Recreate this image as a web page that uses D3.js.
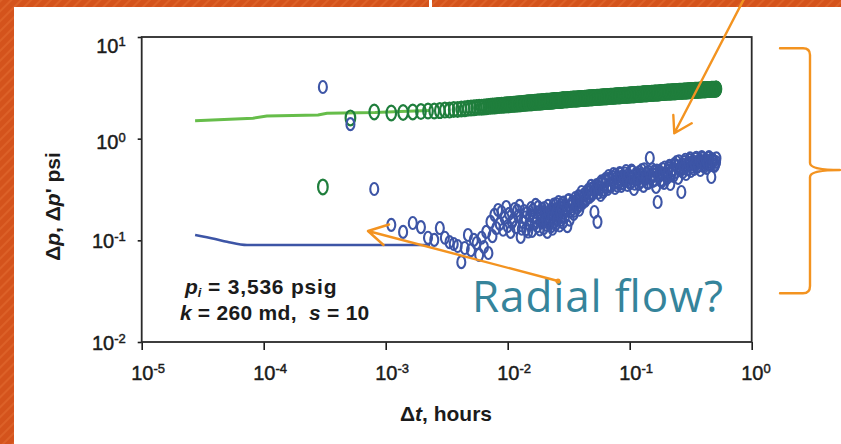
<!DOCTYPE html>
<html>
<head>
<meta charset="utf-8">
<script src="https://cdn.jsdelivr.net/npm/d3@7"></script>
<style>
  html, body { margin: 0; padding: 0; background: #d4531c; }
  svg { display: block; }
  text { white-space: pre; }
</style>
</head>
<body>
<svg id="chart" width="841" height="444"></svg>
<script>
// ---- axis ticks ----
const xTicks = [1e-5, 1e-4, 1e-3, 1e-2, 1e-1, 1];
const yTicks = [1e-2, 1e-1, 1, 10];

// ---- early-time curves (hours, psi) ----
const dpCurveHours    = [2.74e-5, 8.17e-5, 1.06e-4, 2.79e-4, 3.30e-4, 8.17e-4, 1.31e-3, 2.31e-3];
const dpCurvePsi      = [1.50, 1.59, 1.67, 1.71, 1.78, 1.81, 1.85, 1.89];
const derivCurveHours = [2.74e-5, 4.0e-5, 5.0e-5, 7.3e-5, 2.0e-4, 2.31e-3];
const derivCurvePsi   = [0.113, 0.103, 0.097, 0.090, 0.090, 0.090];

// ---- gauge samples: elapsed time (s), pressure change and derivative (psi) ----
const elapsedSec = [
  1.1, 1.85, 2.9, 4, 5, 6, 7, 8, 9, 10,
  11, 12, 13, 14, 15, 16, 17, 18, 19, 20,
  21, 22, 23, 24, 25, 26, 27, 28, 29, 30,
  31, 32, 33, 34, 35, 36, 37, 38, 40, 41,
  42, 44, 45, 46, 48, 49, 51, 52, 54, 56,
  57, 59, 61, 63, 65, 67, 69, 71, 73, 75,
  77, 80, 82, 85, 87, 90, 93, 95, 98, 101,
  104, 108, 111, 114, 118, 121, 125, 129, 133, 137,
  141, 145, 150, 154, 159, 164, 169, 174, 179, 185,
  190, 196, 202, 208, 215, 221, 228, 235, 242, 249,
  257, 265, 273, 281, 290, 298, 307, 317, 326, 336,
  346, 357, 368, 379, 390, 402, 414, 427, 440, 453,
  467, 481, 495, 510, 526, 542, 558, 575, 592, 610,
  629, 648, 667, 688, 708, 730, 752, 775, 798, 822,
  847, 873, 899, 926, 954, 983, 1013, 1043, 1075, 1107,
  1141, 1175, 1211, 1247, 1285, 1324, 1364, 1405, 1448, 1491,
  1536, 1583, 1631, 1680, 1731, 1783, 1837
];
const dpPsi = [
  0.335, 1.60, 1.83, 1.79, 1.81, 1.83, 1.85, 1.87, 1.87, 1.89,
  1.91, 1.91, 1.94, 1.94, 1.96, 1.97, 1.99, 2.00, 2.01, 2.03,
  2.04, 2.04, 2.05, 2.06, 2.07, 2.08, 2.09, 2.10, 2.11, 2.12,
  2.12, 2.13, 2.13, 2.14, 2.15, 2.15, 2.16, 2.17, 2.18, 2.18,
  2.19, 2.20, 2.21, 2.21, 2.22, 2.23, 2.24, 2.24, 2.25, 2.26,
  2.26, 2.27, 2.28, 2.29, 2.30, 2.30, 2.31, 2.32, 2.32, 2.33,
  2.34, 2.34, 2.35, 2.36, 2.36, 2.37, 2.38, 2.38, 2.39, 2.40,
  2.41, 2.42, 2.42, 2.43, 2.44, 2.44, 2.45, 2.46, 2.46, 2.47,
  2.48, 2.48, 2.49, 2.50, 2.50, 2.51, 2.52, 2.53, 2.53, 2.54,
  2.54, 2.55, 2.56, 2.57, 2.57, 2.58, 2.59, 2.59, 2.60, 2.61,
  2.62, 2.62, 2.63, 2.64, 2.65, 2.65, 2.66, 2.66, 2.67, 2.68,
  2.68, 2.69, 2.70, 2.70, 2.71, 2.72, 2.73, 2.73, 2.74, 2.75,
  2.76, 2.76, 2.77, 2.78, 2.78, 2.79, 2.80, 2.81, 2.81, 2.82,
  2.83, 2.84, 2.85, 2.85, 2.86, 2.87, 2.87, 2.88, 2.89, 2.89,
  2.90, 2.91, 2.91, 2.92, 2.93, 2.93, 2.94, 2.95, 2.96, 2.96,
  2.97, 2.98, 2.98, 2.99, 3.00, 3.00, 3.01, 3.02, 3.02, 3.03,
  3.04, 3.05, 3.05, 3.06, 3.07, 3.07, 3.08
];
const dpDerivPsi = [
  3.22, 1.39, 0.320, 0.142, 0.121, 0.148, 0.135, 0.106, 0.101, 0.132,
  0.106, 0.096, 0.092, 0.088, 0.061, 0.084, 0.113, 0.080, 0.101, 0.094,
  0.072, 0.106, 0.086, 0.121, 0.075, 0.152, 0.110, 0.178, 0.132, 0.199,
  0.145, 0.190, 0.127, 0.166, 0.213, 0.138, 0.182, 0.121, 0.159, 0.203,
  0.135, 0.174, 0.218, 0.108, 0.152, 0.194, 0.129, 0.186, 0.145, 0.208,
  0.124, 0.170, 0.223, 0.138, 0.190, 0.155, 0.203, 0.132, 0.182, 0.142,
  0.218, 0.162, 0.138, 0.199, 0.152, 0.228, 0.174, 0.213, 0.159, 0.233,
  0.186, 0.208, 0.138, 0.249, 0.194, 0.228, 0.182, 0.261, 0.208, 0.273,
  0.223, 0.299, 0.238, 0.286, 0.255, 0.313, 0.267, 0.343, 0.292, 0.190,
  0.327, 0.152, 0.358, 0.279, 0.375, 0.313, 0.401, 0.335, 0.430, 0.350,
  0.392, 0.449, 0.327, 0.411, 0.367, 0.460, 0.343, 0.430, 0.384, 0.481,
  0.350, 0.420, 0.375, 0.470, 0.320, 0.401, 0.449, 0.358, 0.420, 0.492,
  0.343, 0.401, 0.460, 0.367, 0.646, 0.430, 0.384, 0.481, 0.335, 0.238,
  0.439, 0.392, 0.503, 0.367, 0.460, 0.411, 0.515, 0.358, 0.481, 0.430,
  0.551, 0.590, 0.411, 0.515, 0.299, 0.470, 0.590, 0.449, 0.539, 0.617,
  0.481, 0.564, 0.503, 0.631, 0.527, 0.590, 0.492, 0.660, 0.551, 0.603,
  0.515, 0.646, 0.564, 0.420, 0.617, 0.539, 0.590
];

// ---- interleaved readings between the samples above ----
const midSec = [
  39, 43, 47, 50, 53, 55, 58, 60, 62, 64,
  66, 68, 70, 72, 74, 76, 78, 79, 81, 83,
  84, 86, 88, 89, 91, 92, 94, 96, 97, 99,
  100, 102, 103, 106, 110, 112, 116, 119, 123, 127,
  131, 135, 139, 143, 147, 152, 156, 161, 166, 171,
  176, 182, 187, 193, 199, 205, 211, 218, 224, 231,
  238, 245, 253, 261, 269, 277, 285, 294, 302, 312,
  321, 331, 341, 351, 362, 373, 384, 396, 408, 420,
  433, 446, 460, 474, 488, 502, 518, 534, 550, 566,
  583, 601, 619, 638, 657, 677, 698, 719, 741, 763,
  786, 810, 834, 860, 886, 912, 940, 968, 998, 1028,
  1059, 1091, 1124, 1158, 1193, 1229, 1266, 1304, 1344, 1384,
  1426, 1469, 1513, 1559, 1607, 1655, 1705, 1757, 1810, 1850
];
const midDpPsi = [
  2.17, 2.19, 2.22, 2.23, 2.25, 2.25, 2.27, 2.28, 2.28, 2.29,
  2.30, 2.31, 2.31, 2.32, 2.33, 2.33, 2.34, 2.34, 2.35, 2.35,
  2.35, 2.36, 2.37, 2.37, 2.37, 2.38, 2.38, 2.39, 2.39, 2.39,
  2.40, 2.40, 2.41, 2.41, 2.42, 2.43, 2.43, 2.44, 2.45, 2.45,
  2.46, 2.47, 2.47, 2.48, 2.49, 2.49, 2.50, 2.51, 2.51, 2.52,
  2.53, 2.54, 2.54, 2.55, 2.56, 2.56, 2.57, 2.58, 2.58, 2.59,
  2.60, 2.60, 2.61, 2.62, 2.63, 2.63, 2.64, 2.65, 2.65, 2.66,
  2.67, 2.67, 2.68, 2.69, 2.69, 2.70, 2.71, 2.71, 2.72, 2.73,
  2.74, 2.74, 2.75, 2.76, 2.76, 2.77, 2.78, 2.78, 2.79, 2.80,
  2.81, 2.82, 2.82, 2.83, 2.84, 2.85, 2.86, 2.86, 2.87, 2.88,
  2.88, 2.89, 2.90, 2.90, 2.91, 2.92, 2.92, 2.93, 2.94, 2.95,
  2.95, 2.96, 2.97, 2.97, 2.98, 2.99, 2.99, 3.00, 3.01, 3.01,
  3.02, 3.03, 3.03, 3.04, 3.05, 3.05, 3.06, 3.07, 3.07, 3.08
];
const midDerivPsi = [
  0.150, 0.196, 0.130, 0.168, 0.122, 0.176, 0.198, 0.146, 0.166, 0.212,
  0.128, 0.176, 0.150, 0.208, 0.160, 0.121, 0.186, 0.145, 0.200, 0.170,
  0.130, 0.225, 0.180, 0.143, 0.196, 0.160, 0.238, 0.140, 0.190, 0.170,
  0.210, 0.150, 0.235, 0.170, 0.200, 0.245, 0.160, 0.215, 0.240, 0.196,
  0.230, 0.250, 0.200, 0.265, 0.232, 0.280, 0.245, 0.300, 0.270, 0.320,
  0.280, 0.330, 0.305, 0.350, 0.295, 0.330, 0.380, 0.300, 0.355, 0.380,
  0.320, 0.405, 0.340, 0.420, 0.370, 0.440, 0.345, 0.400, 0.450, 0.365,
  0.410, 0.455, 0.390, 0.440, 0.365, 0.485, 0.410, 0.360, 0.455, 0.395,
  0.470, 0.380, 0.440, 0.500, 0.415, 0.370, 0.470, 0.410, 0.500, 0.440,
  0.395, 0.485, 0.420, 0.470, 0.380, 0.450, 0.520, 0.425, 0.480, 0.540,
  0.445, 0.500, 0.560, 0.470, 0.535, 0.600, 0.490, 0.560, 0.520, 0.620,
  0.500, 0.575, 0.640, 0.530, 0.600, 0.560, 0.650, 0.540, 0.615, 0.580,
  0.640, 0.530, 0.620, 0.580, 0.660, 0.550, 0.630, 0.600, 0.560, 0.640
];

// ---- page setup ----
const W = 841, H = 444;
const svg = d3.select("#chart");
const tickFont = "'Liberation Sans', Arial, Helvetica, sans-serif";
const ink = "#1b1b1b";
const orange = "#f39320";

// textured slide background
const defs = svg.append("defs");
const pat = defs.append("pattern")
  .attr("id", "stripes").attr("width", 7).attr("height", 7)
  .attr("patternUnits", "userSpaceOnUse")
  .attr("patternTransform", "rotate(45)");
pat.append("rect").attr("width", 7).attr("height", 7).attr("fill", "#d4531c");
pat.append("rect").attr("width", 2).attr("height", 7).attr("fill", "#dc6128");
svg.append("rect").attr("width", W).attr("height", H).attr("fill", "url(#stripes)");

// white content panel
svg.append("rect").attr("x", 14).attr("y", 7).attr("width", W - 14).attr("height", H - 7).attr("fill", "#fff");
// tail of the slide title glyph peeking above the panel
svg.append("rect").attr("x", 429).attr("y", 0).attr("width", 3).attr("height", 7).attr("fill", "#fff");

// ---- scales ----
const x = d3.scaleLog().domain([1e-5, 1]).range([141.7, 751.7]);
const y = d3.scaleLog().domain([0.01, 10]).range([342, 37]);

function powerLabel(textSel, v, supSize, supShift) {
  const e = Math.round(Math.log10(v));
  textSel.text(null);
  textSel.append("tspan").text("10");
  textSel.append("tspan").attr("dy", supShift).attr("font-size", supSize)
    .text(e < 0 ? "-" + (-e) : String(e));
}

// x axis
const gx = svg.append("g").attr("transform", `translate(0,${y.range()[0]})`)
  .call(d3.axisBottom(x).tickValues(xTicks).tickSize(8).tickSizeOuter(0).tickFormat(() => ""));
gx.select(".domain").remove();
gx.selectAll(".tick line").attr("stroke", ink).attr("stroke-width", 1.6);
gx.selectAll(".tick text")
  .attr("font-family", tickFont).attr("font-size", 20).attr("fill", ink)
  .attr("stroke", ink).attr("stroke-width", 0.45)
  .attr("text-anchor", "start").attr("x", -11).attr("y", 38).attr("dy", null)
  .each(function (d) { powerLabel(d3.select(this), d, 13, -7); });

// y axis
const yLabelDrop = { "0.01": 7.5, "0.1": 7.5, "1": 10, "10": 15 };
const gy = svg.append("g").attr("transform", `translate(${x.range()[0]},0)`)
  .call(d3.axisLeft(y).tickValues(yTicks).tickSize(4).tickSizeOuter(0).tickFormat(() => ""));
gy.select(".domain").remove();
gy.selectAll(".tick line").attr("stroke", ink).attr("stroke-width", 1.6);
gy.selectAll(".tick text")
  .attr("font-family", tickFont).attr("font-size", 20).attr("fill", ink)
  .attr("stroke", ink).attr("stroke-width", 0.45)
  .attr("text-anchor", "end").attr("x", -16).attr("dy", null)
  .attr("y", d => yLabelDrop[String(d)])
  .each(function (d) { powerLabel(d3.select(this), d, 13, -7); });

// plot frame
svg.append("rect")
  .attr("x", x.range()[0]).attr("y", y.range()[1])
  .attr("width", x.range()[1] - x.range()[0]).attr("height", y.range()[0] - y.range()[1])
  .attr("fill", "none").attr("stroke", "#2a2a2a").attr("stroke-width", 1.8);

// axis titles
const xTitle = svg.append("text").attr("x", 446).attr("y", 421)
  .attr("text-anchor", "middle").attr("font-family", tickFont)
  .attr("font-size", 21).attr("font-weight", "bold").attr("fill", ink);
xTitle.append("tspan").text("Δ");
xTitle.append("tspan").attr("font-style", "italic").text("t");
xTitle.append("tspan").text(", hours");

const yTitle = svg.append("text").attr("transform", "translate(60,206.5) rotate(-90)")
  .attr("text-anchor", "middle").attr("font-family", tickFont)
  .attr("font-size", 21).attr("font-weight", "bold").attr("fill", ink);
yTitle.append("tspan").text("Δ");
yTitle.append("tspan").attr("font-style", "italic").text("p");
yTitle.append("tspan").text(", Δ");
yTitle.append("tspan").attr("font-style", "italic").text("p");
yTitle.append("tspan").text("' psi");

// ---- early-time curves ----
const plot = svg.append("g");
plot.append("path")
  .datum(dpCurveHours.map((t, i) => [t, dpCurvePsi[i]]))
  .attr("d", d3.line().x(d => x(d[0])).y(d => y(d[1])))
  .attr("fill", "none").attr("stroke", "#66bd4a").attr("stroke-width", 3);
plot.append("path")
  .datum(derivCurveHours.map((t, i) => [t, derivCurvePsi[i]]))
  .attr("d", d3.line().curve(d3.curveMonotoneX).x(d => x(d[0])).y(d => y(d[1])))
  .attr("fill", "none").attr("stroke", "#3d55a6").attr("stroke-width", 2.6);

// ---- gauge samples ----
const samples = elapsedSec.map((s, i) => ({ t: s / 3600, dp: dpPsi[i], dd: dpDerivPsi[i] }))
  .concat(midSec.map((s, i) => ({ t: s / 3600, dp: midDpPsi[i], dd: midDerivPsi[i] })));
plot.append("g").selectAll("ellipse").data(samples).join("ellipse")
  .attr("cx", d => x(d.t)).attr("cy", d => y(d.dp))
  .attr("rx", 4.8).attr("ry", 7.4)
  .attr("fill", "none").attr("stroke", "#1f7e3c").attr("stroke-width", 2.2);
plot.append("g").selectAll("ellipse").data(samples).join("ellipse")
  .attr("cx", d => x(d.t)).attr("cy", d => y(d.dd))
  .attr("rx", 4).attr("ry", 6)
  .attr("fill", "none").attr("stroke", "#3d55a6").attr("stroke-width", 2.1);

// ---- reservoir parameters (two lines in one block) ----
const note = svg.append("text")
  .attr("font-family", tickFont).attr("font-size", 21).attr("font-weight", "bold").attr("fill", ink);
note.append("tspan").attr("x", 185).attr("y", 294).attr("font-style", "italic").text("p");
note.append("tspan").attr("font-style", "italic").attr("font-size", 13).attr("dy", 3).text("i");
note.append("tspan").attr("dy", -3).attr("letter-spacing", 0.8).text(" = 3,536 psig");
note.append("tspan").attr("x", 180).attr("y", 320).attr("font-style", "italic").text("k");
note.append("tspan").attr("letter-spacing", 0.3).text(" = 260 md,  ");
note.append("tspan").attr("font-style", "italic").text("s");
note.append("tspan").attr("letter-spacing", 0.3).text(" = 10");

// ---- slide call-outs ----
svg.append("text").attr("x", 472).attr("y", 312)
  .attr("font-family", "'Trebuchet MS', 'Open Sans', sans-serif")
  .attr("font-size", 44).attr("font-weight", 500).attr("fill", "#35849b")
  .attr("textLength", 251).attr("lengthAdjust", "spacing")
  .text("Radial flow?");

const callouts = svg.append("g").attr("fill", "none").attr("stroke", orange)
  .attr("stroke-width", 2.4).attr("stroke-linecap", "round").attr("stroke-linejoin", "round");
// arrow down to the derivative rise
callouts.append("path").attr("d", "M745,-3 L674.3,133.3 M691.7,123.3 L674.3,133.3 L673.3,115");
// arrow from the question to the early flat derivative
callouts.append("path").attr("d", "M558,281 L368,231 M389,224.5 L368,231 L383.5,245");
svg.append("circle").attr("cx", 558).attr("cy", 281).attr("r", 2.6).attr("fill", orange);
// right brace
callouts.append("path")
  .attr("d", "M780,48.3 H803 Q810,48.3 810,55 V163 Q810,170 840,170 Q810,170 810,177 V286 Q810,293.3 803,293.3 H780");
</script>
</body>
</html>
